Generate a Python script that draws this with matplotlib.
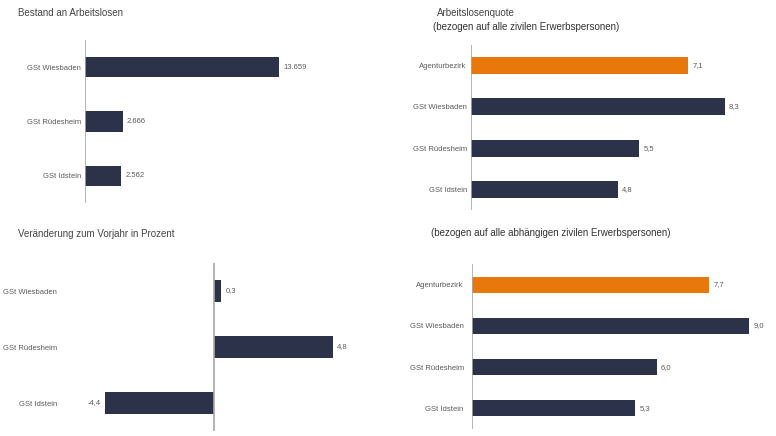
import matplotlib.pyplot as plt

# Daten
orte_bestand = ["GSt Wiesbaden", "GSt Rüdesheim", "GSt Idstein"]
bestand = [13659, 2666, 2562]

orte_quote = ["Agenturbezirk", "GSt Wiesbaden", "GSt Rüdesheim", "GSt Idstein"]
quote_zivil = [7.1, 8.3, 5.5, 4.8]
quote_abh = [7.7, 9.0, 6.0, 5.3]

orte_veraend = ["GSt Wiesbaden", "GSt Rüdesheim", "GSt Idstein"]
veraenderung = [0.3, 4.8, -4.4]

W, H = 776, 436
NAVY = "#2c3249"
ORANGE = "#e8780c"
LINE = "#a8a8a8"
TEXT = "#5a5a5a"
FS = 5.5

plt.rcParams['font.family'] = ['Liberation Sans', 'DejaVu Sans']


def px_axes(fig, x0, y0, x1, y1):
    """Achsen in Pixelkoordinaten (oben links = 0,0)."""
    return fig.add_axes([x0 / W, 1 - y1 / H, (x1 - x0) / W, (y1 - y0) / H])


def fmt_tsd(v):
    return f"{v:,}".replace(",", ".")


def fmt_dez(v):
    return f"{v:.1f}".replace(".", ",")


def balken(ax, labels, values, colors, height, scale, zero_px, left_px, right_px,
           fmt, pad_pt):
    n = len(labels)
    pos = list(range(n))
    ax.barh(pos, values, height=height, color=colors, edgecolor="none")
    ax.set_ylim(n - 0.5, -0.5)
    ax.set_xlim((left_px - zero_px) / scale, (right_px - zero_px) / scale)
    for s in ax.spines.values():
        s.set_visible(False)
    ax.axvline(0, color=LINE, lw=1.2)
    ax.set_xticks([])
    ax.set_yticks(pos)
    ax.set_yticklabels(labels, fontsize=FS, color=TEXT)
    ax.tick_params(axis="y", length=0, pad=pad_pt)
    gap = 4 / scale
    for p, v in zip(pos, values):
        if v >= 0:
            ax.text(v + gap, p, fmt(v), va="center", ha="left",
                    fontsize=FS, color=TEXT)
        else:
            ax.text(v - gap, p, fmt(v), va="center", ha="right",
                    fontsize=FS, color=TEXT)


fig = plt.figure(figsize=(W / 100, H / 100), dpi=100)

# Bestand an Arbeitslosen
ax1 = px_axes(fig, 85, 40, 385, 203)
balken(ax1, orte_bestand, bestand, [NAVY] * 3, 0.38, 194 / 13659, 85, 85, 385,
       fmt_tsd, 3)
fig.text(18 / W, 1 - 13 / H, "Bestand an Arbeitslosen", fontsize=7,
         color="#444444", va="center")

# Arbeitslosenquote zivile Erwerbspersonen
ax2 = px_axes(fig, 471, 45, 770, 210)
balken(ax2, orte_quote, quote_zivil, [ORANGE] + [NAVY] * 3, 0.41, 30.6, 471, 471,
       770, fmt_dez, 3)
fig.text(437 / W, 1 - 13 / H, "Arbeitslosenquote", fontsize=7,
         color="#444444", va="center")
fig.text(433 / W, 1 - 27 / H, "(bezogen auf alle zivilen Erwerbspersonen)",
         fontsize=7, color="#333333", va="center")

# Veränderung zum Vorjahr
ax3 = px_axes(fig, 61, 263, 385, 431)
balken(ax3, orte_veraend, veraenderung, [NAVY] * 3, 0.39, 24.8, 214, 61, 385,
       fmt_dez, 3)
fig.text(18 / W, 1 - 234 / H, "Veränderung zum Vorjahr in Prozent", fontsize=7,
         color="#444444", va="center")

# Arbeitslosenquote abhängige zivile Erwerbspersonen
ax4 = px_axes(fig, 472, 264, 770, 429)
balken(ax4, orte_quote, quote_abh, [ORANGE] + [NAVY] * 3, 0.39, 30.8, 472, 472,
       770, fmt_dez, 6)
fig.text(431 / W, 1 - 233 / H,
         "(bezogen auf alle abhängigen zivilen Erwerbspersonen)", fontsize=7,
         color="#333333", va="center")

fig.savefig("out.png", dpi=100)
